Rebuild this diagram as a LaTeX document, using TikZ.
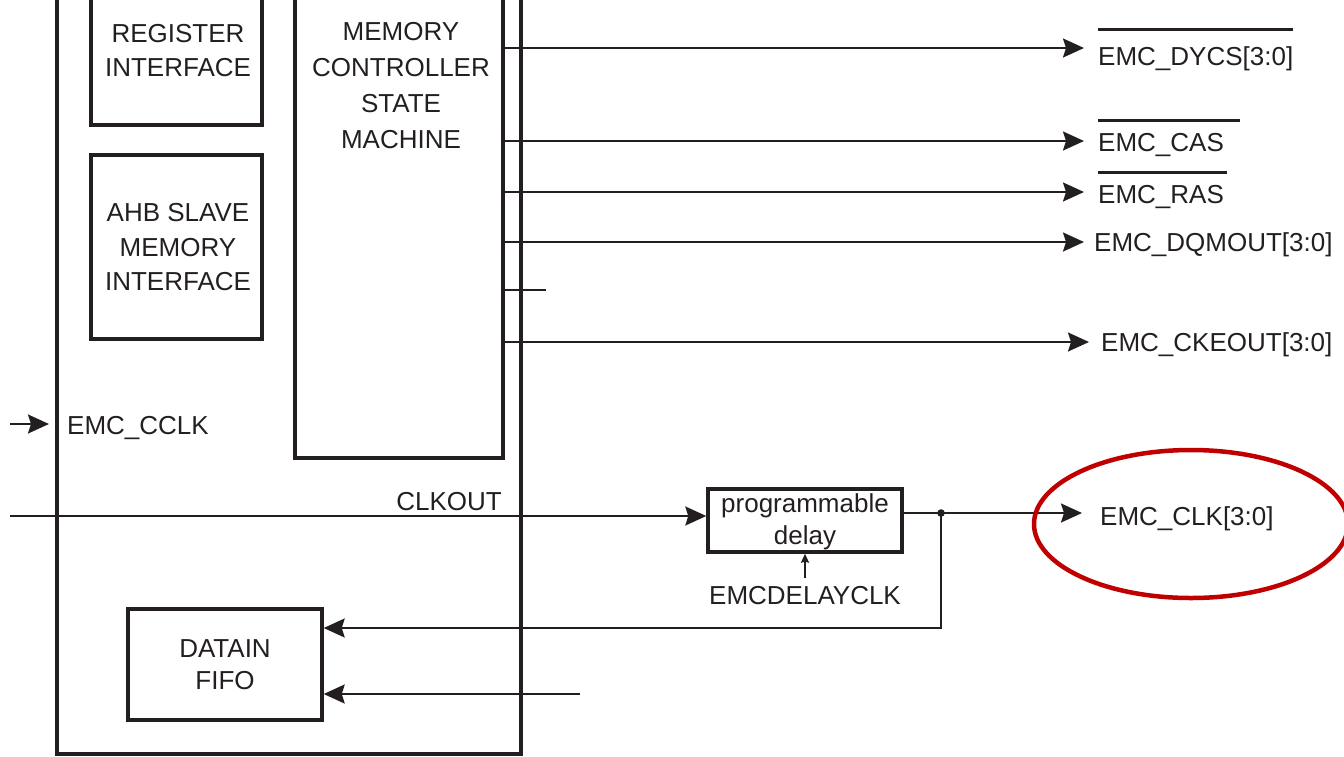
\documentclass[tikz,border=0pt]{standalone}
\usepackage{fontspec}
\setmainfont{Liberation Sans}
\usetikzlibrary{arrows.meta,shapes.geometric}
\definecolor{ink}{HTML}{231F20}
\definecolor{emcred}{HTML}{C00000}
\begin{document}
\begin{tikzpicture}[x=1pt,y=-1pt,
  box/.style={draw=ink, line width=3.4pt, inner sep=0pt},
  sig/.style={draw=ink, line width=2pt},
  arr/.style={sig, -{Stealth[length=21pt,width=19pt,inset=3pt]}},
  smallarr/.style={draw=ink, line width=1.6pt, -{Stealth[length=9pt,width=8pt,inset=1pt]}},
  lbl/.style={inner sep=0pt, text=ink, font=\fontsize{26}{34}\selectfont, align=center},
  ovl/.style={draw=ink, line width=3pt},
]
\useasboundingbox (0,0) rectangle (1344,756);
\clip (0,0) rectangle (1344,756);

% blocks
\node[box, minimum width=464pt, minimum height=784pt] (emc) at (289,362) {};
\node[box, minimum width=171pt, minimum height=155pt] (reg) at (176.5,47.5) {};
\node[lbl] (regt) at (178,51) {REGISTER\\INTERFACE};
\node[box, minimum width=171pt, minimum height=184pt] (ahb) at (176.5,247) {};
\node[lbl, font=\fontsize{26}{34.5}\selectfont] (ahbt) at (178,247.5) {AHB SLAVE\\MEMORY\\INTERFACE};
\node[box, minimum width=208pt, minimum height=488pt] (mem) at (399,214) {};
\node[lbl, font=\fontsize{26}{36}\selectfont] (memt) at (401,86) {MEMORY\\CONTROLLER\\STATE\\MACHINE};
\node[box, minimum width=194pt, minimum height=111pt] (fifo) at (225,664.5) {};
\node[lbl, font=\fontsize{26}{32}\selectfont] (fifot) at (225,665) {DATAIN\\FIFO};
\node[box, minimum width=194pt, minimum height=63pt] (delay) at (805,520.5) {};
\node[lbl, font=\fontsize{26}{32}\selectfont] (delayt) at (805,522) {programmable\\delay};

% output labels
\node[lbl, anchor=base west] (dycs) at (1098,65.5) {EMC\_DYCS[3:0]};
\node[lbl, anchor=base west] (cas) at (1098,151) {EMC\_CAS};
\node[lbl, anchor=base west] (ras) at (1098,203.5) {EMC\_RAS};
\node[lbl, anchor=base west] (dqm) at (1094,251) {EMC\_DQMOUT[3:0]};
\node[lbl, anchor=base west] (cke) at (1101,351.5) {EMC\_CKEOUT[3:0]};
\node[lbl, anchor=base west] (clk) at (1100,525.5) {EMC\_CLK[3:0]};
\node[lbl, anchor=base west] (cclk) at (67,434.5) {EMC\_CCLK};
\node[lbl, anchor=base east] (clkout) at (502,510) {CLKOUT};
\node[lbl, anchor=base] (dclk) at (805,604.5) {EMCDELAYCLK};

% overlines
\draw[ovl] (dycs.west |- 0,29) -- (dycs.east |- 0,29);
\draw[ovl] (cas.west |- 0,120) -- ++(142,0);
\draw[ovl] (ras.west |- 0,172) -- ++(129,0);

% output connectors
\coordinate (tdycs) at (1084,48);
\coordinate (tcas) at (1084,141);
\coordinate (tras) at (1084,192);
\coordinate (tdqm) at (1084,242);
\coordinate (stub) at (546,290);
\coordinate (tcke) at (1089,342);
\draw[arr] (tdycs -| mem.east) -- (tdycs);
\draw[arr] (tcas -| mem.east) -- (tcas);
\draw[arr] (tras -| mem.east) -- (tras);
\draw[arr] (tdqm -| mem.east) -- (tdqm);
\draw[sig] (stub -| mem.east) -- (stub);
\draw[arr] (tcke -| mem.east) -- (tcke);

% clocks
\coordinate (cclkin) at (10,424);
\coordinate (cclktip) at (49,424);
\draw[arr] (cclkin) -- (cclktip);
\coordinate (clkin) at (10,516);
\draw[arr] (clkin) -- (delay.west |- clkin);
\coordinate (dot) at (941,513);
\coordinate (tclk) at (1082,513);
\coordinate (fb) at (941,628);
\draw[sig] (delay.east |- dot) -- (dot);
\draw[arr] (dot) -- (tclk);
\fill[ink] (dot) circle (3.8pt);
\draw[arr] (dot) -- (fb) -- (fifo.east |- fb);
\coordinate (fin2) at (580,694);
\draw[arr] (fin2) -- (fifo.east |- fin2);
\draw[smallarr, shorten <=8pt] (dclk.north) -- (delay.south);

% highlight
\node[draw=emcred, line width=4.5pt, ellipse, minimum width=314pt, minimum height=148pt, inner sep=0pt] (hl) at (1191,524) {};
\end{tikzpicture}
\end{document}
